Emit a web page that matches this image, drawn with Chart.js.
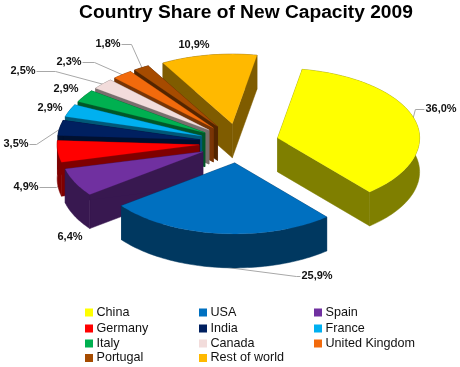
<!DOCTYPE html>
<html>
<head>
<meta charset="utf-8">
<title>Country Share of New Capacity 2009</title>
<script src="https://cdn.jsdelivr.net/npm/chart.js@4"></script>
<style>
  html, body { margin: 0; padding: 0; background: #fff; }
  canvas { display: block; }
</style>
</head>
<body>
<canvas id="shareChart" width="460" height="367"></canvas>
<script>
const countries = ["China", "USA", "Spain", "Germany", "India", "France", "Italy", "Canada", "United Kingdom", "Portugal", "Rest of world"];
const shares = [36.0, 25.9, 6.4, 4.9, 3.5, 2.9, 2.9, 2.5, 2.3, 1.8, 10.9];
const colors = ["#FFFF00", "#0070C0", "#7030A0", "#FF0000", "#002060", "#00B0F0", "#00B050", "#F2DCDB", "#F26A0C", "#A64B00", "#FFB900"];

// layout of the fake 3D pie, the front half is squashed a bit less than the back
const squashFront = 0.5;
const squashBack = 0.49;
const depth = 34;
const explode = 40;
const pieShiftX = -7;
const labelAt = [[441, 109], [317, 276], [70, 237], [26, 187], [16, 144], [50, 108], [66, 89], [23, 71], [69, 62], [108, 44], [194, 45]];
const leaderFrom = ["top", "bottom", null, "bottom", "top", null, null, "top", "top", "top", null];
const leaderStub = [9, 4, 0, 17, 7, 0, 0, 19, 12, 10, 0];
const legendCols = [85, 199, 314];
const legendRows = [312.5, 328.5, 343.5, 358];

const darken = hex => {
  const n = parseInt(hex.slice(1), 16);
  return `rgb(${(n >> 16) >> 1},${((n >> 8) & 255) >> 1},${(n & 255) >> 1})`;
};

const squashY = v => v * (v > 0 ? squashFront : squashBack);

// where a point of the flat pie ends up after exploding and squashing
const project = (arc, angle, radius) => {
  const mid = (arc.startAngle + arc.endAngle) / 2;
  return {
    x: arc.x + pieShiftX + Math.cos(mid) * explode + Math.cos(angle) * radius,
    y: arc.y + squashY(Math.sin(mid) * explode) + squashY(Math.sin(angle) * radius)
  };
};

const rimPoints = arc => {
  const pts = [];
  const steps = Math.ceil((arc.endAngle - arc.startAngle) * 40);
  for (let s = 0; s <= steps; s++) {
    const a = arc.startAngle + (arc.endAngle - arc.startAngle) * s / steps;
    pts.push(project(arc, a, arc.outerRadius));
  }
  return pts;
};

const fillPoly = (ctx, pts) => {
  ctx.beginPath();
  pts.forEach((p, i) => (i ? ctx.lineTo(p.x, p.y) : ctx.moveTo(p.x, p.y)));
  ctx.closePath();
  ctx.fill();
  ctx.stroke();
};

const down = p => ({ x: p.x, y: p.y + depth });

const drawWedge = (ctx, arc, color) => {
  const apex = project(arc, 0, 0);
  const rim = rimPoints(arc);
  const first = rim[0];
  const last = rim[rim.length - 1];
  ctx.fillStyle = ctx.strokeStyle = darken(color);
  ctx.lineWidth = 0.5;
  fillPoly(ctx, [apex, first, down(first), down(apex)]);
  fillPoly(ctx, [apex, last, down(last), down(apex)]);
  fillPoly(ctx, [...rim, ...rim.map(down).reverse()]);
  ctx.fillStyle = ctx.strokeStyle = color;
  ctx.lineWidth = 0.2;
  fillPoly(ctx, [apex, ...rim]);
};

const pie3d = {
  id: "pie3d",
  beforeDatasetsDraw(chart) {
    const ctx = chart.ctx;
    const meta = chart.getDatasetMeta(0).data;
    ctx.save();
    // leaders go under the pie
    meta.forEach((arc, i) => {
      if (!leaderFrom[i]) return;
      const text = shares[i].toFixed(1).replace(".", ",") + "%";
      ctx.font = "bold 11px 'Liberation Sans'";
      const [lx, ly] = labelAt[i];
      const mid = (arc.startAngle + arc.endAngle) / 2;
      const rim = project(arc, mid, arc.outerRadius - 2);
      const anchorY = leaderFrom[i] === "bottom" ? rim.y + depth : rim.y;
      const half = ctx.measureText(text).width / 2 + 1;
      const side = rim.x < lx ? -1 : 1;
      ctx.strokeStyle = "#A8A8A8";
      ctx.lineWidth = 1;
      ctx.beginPath();
      ctx.moveTo(lx + side * half, ly + 0.5);
      ctx.lineTo(lx + side * (half + leaderStub[i]), ly + 0.5);
      ctx.lineTo(rim.x, anchorY);
      ctx.stroke();
    });
    // back wedges first so the front ones cover them
    const arcs = meta.map((arc, i) => ({ arc, i }));
    const midSin = a => Math.sin((a.arc.startAngle + a.arc.endAngle) / 2);
    arcs.sort((a, b) => midSin(a) - midSin(b));
    arcs.forEach(({ arc, i }) => drawWedge(ctx, arc, colors[i]));
    ctx.restore();
    return false;
  },
  afterDraw(chart) {
    const ctx = chart.ctx;
    ctx.save();
    ctx.textBaseline = "middle";
    ctx.font = "bold 11px 'Liberation Sans'";
    ctx.textAlign = "center";
    ctx.fillStyle = "#111";
    shares.forEach((v, i) => {
      ctx.fillText(v.toFixed(1).replace(".", ",") + "%", labelAt[i][0], labelAt[i][1]);
    });

    ctx.font = "12.6px 'Liberation Sans'";
    ctx.textAlign = "left";
    countries.forEach((name, i) => {
      const x = legendCols[i % 3];
      const y = legendRows[Math.floor(i / 3)];
      ctx.fillStyle = colors[i];
      ctx.fillRect(x, y - 4, 8, 8);
      ctx.fillStyle = "#111";
      ctx.fillText(name, x + 11.5, y);
    });
    ctx.restore();
  }
};

new Chart(document.getElementById("shareChart").getContext("2d"), {
  type: "pie",
  data: {
    labels: countries,
    datasets: [{
      data: shares,
      backgroundColor: colors,
      borderWidth: 0
    }]
  },
  options: {
    responsive: false,
    animation: false,
    rotation: 10,
    radius: 142,
    layout: { padding: { left: 32, right: 0, top: 1, bottom: 105 } },
    plugins: {
      legend: { display: false },
      tooltip: { enabled: false },
      title: {
        display: true,
        text: "Country Share of New Capacity 2009",
        color: "#000",
        font: { family: "'Liberation Sans'", size: 19.2, weight: "bold" },
        padding: 0
      }
    }
  },
  plugins: [pie3d]
});
</script>
</body>
</html>
